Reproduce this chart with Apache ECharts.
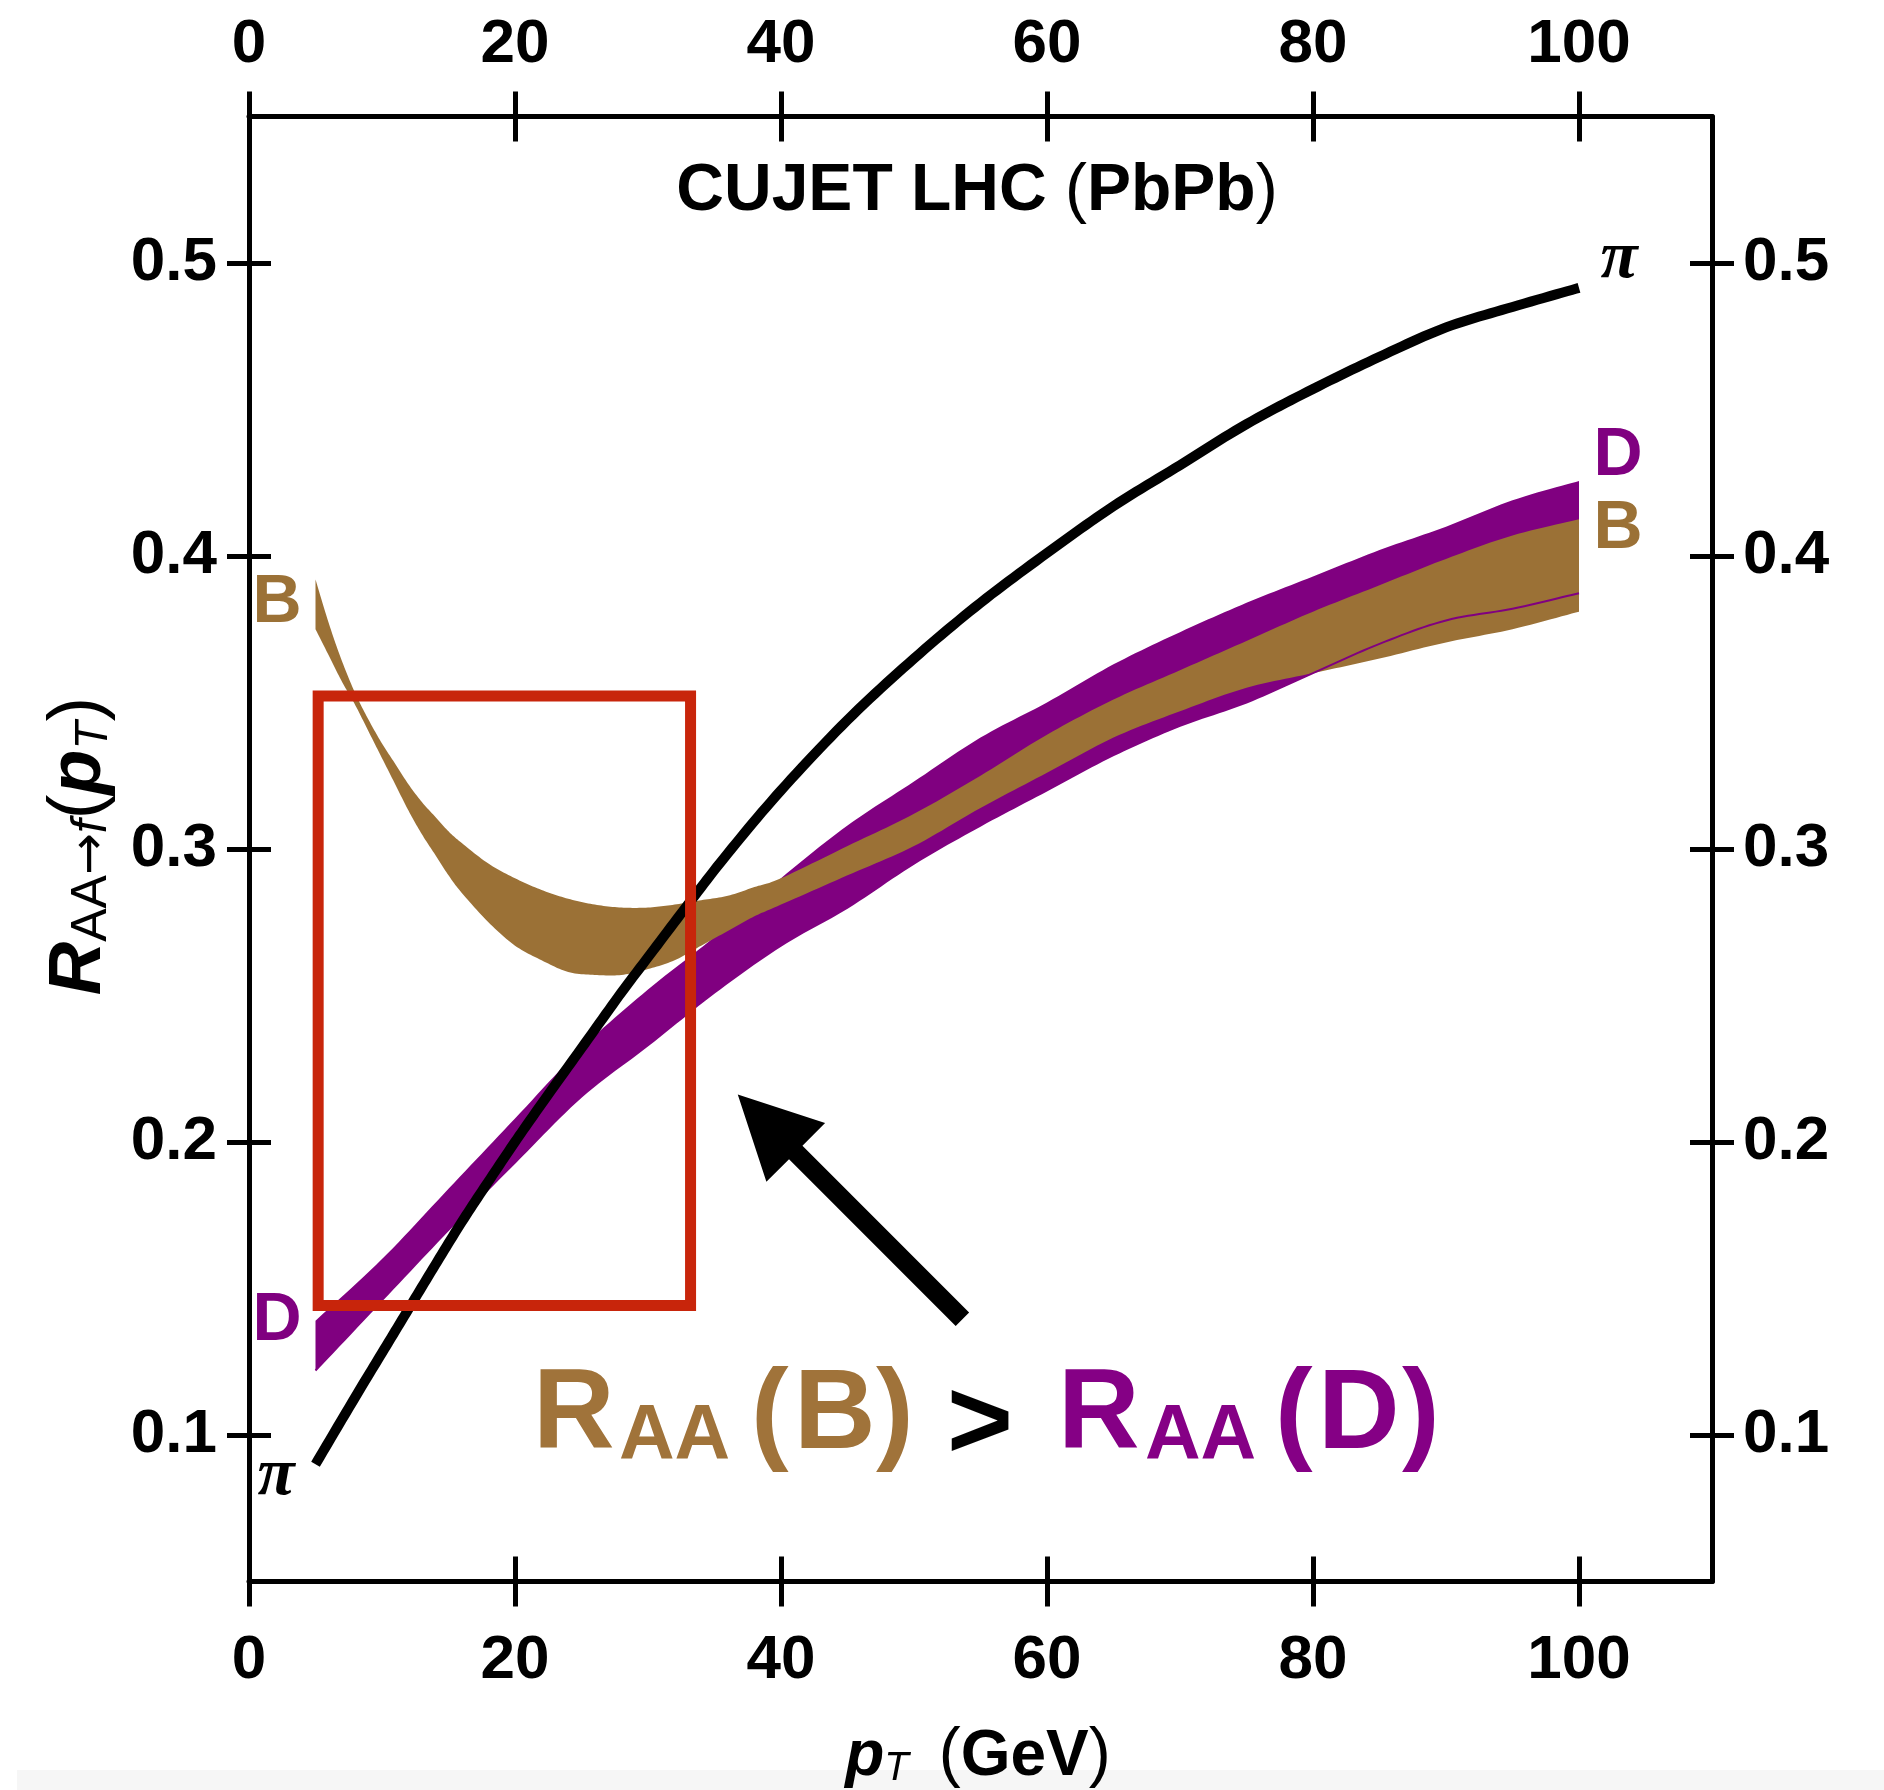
<!DOCTYPE html>
<html>
<head>
<meta charset="utf-8">
<script src="https://cdn.jsdelivr.net/npm/echarts@6/dist/echarts.min.js"></script>
<style>html,body{margin:0;padding:0;background:#fff}#c{width:1884px;height:1790px}</style>
</head>
<body>
<div id="c"></div>
<script>
// ---------------- data ----------------
const xTicks = [0, 20, 40, 60, 80, 100];
const yTicks = [0.1, 0.2, 0.3, 0.4, 0.5];

// pion (black curve)
const piX = [5, 8, 10, 12, 14, 16, 18, 20, 22, 25, 28, 30, 33, 36, 40, 45, 50, 55, 60, 65, 70, 75, 80, 85, 90, 95, 100];
const piY = [0.090, 0.113, 0.128, 0.143, 0.158, 0.1727, 0.1865, 0.200, 0.213, 0.232, 0.251, 0.263, 0.281, 0.2985, 0.320, 0.344, 0.365, 0.384, 0.401, 0.417, 0.431, 0.445, 0.457, 0.468, 0.478, 0.485, 0.4915];

// D meson band (purple)
const dX    = [5, 10, 15, 20, 25, 30, 35, 40, 45, 50, 55, 60, 65, 70, 75, 80, 85, 90, 95, 100];
const dHigh = [0.139, 0.160, 0.184, 0.208, 0.232, 0.252, 0.270, 0.290, 0.308, 0.323, 0.338, 0.350, 0.363, 0.374, 0.384, 0.393, 0.402, 0.410, 0.419, 0.4256];
const dLow  = [0.122, 0.146, 0.170, 0.193, 0.2155, 0.233, 0.251, 0.267, 0.280, 0.295, 0.308, 0.320, 0.332, 0.342, 0.350, 0.360, 0.370, 0.378, 0.382, 0.3873];

// B meson band (brown)
const bX    = [5, 6, 7, 8, 9, 10, 11, 12, 13, 14, 15, 16, 18, 20, 22, 24, 26, 28, 30, 32, 34, 36, 38, 40, 45, 50, 55, 60, 65, 70, 75, 80, 85, 90, 95, 100];
const bHigh = [0.392, 0.377, 0.364, 0.353, 0.344, 0.336, 0.329, 0.322, 0.316, 0.311, 0.306, 0.302, 0.295, 0.290, 0.286, 0.283, 0.281, 0.280, 0.280, 0.281, 0.2825, 0.284, 0.287, 0.290, 0.301, 0.312, 0.325, 0.339, 0.351, 0.361, 0.371, 0.381, 0.390, 0.399, 0.407, 0.4125];
const bLow  = [0.375, 0.366, 0.357, 0.349, 0.340, 0.331, 0.322, 0.313, 0.305, 0.298, 0.291, 0.285, 0.275, 0.267, 0.262, 0.258, 0.257, 0.257, 0.259, 0.262, 0.267, 0.272, 0.277, 0.281, 0.291, 0.301, 0.314, 0.326, 0.338, 0.347, 0.355, 0.360, 0.365, 0.3705, 0.375, 0.381];

// annotation box and arrow (data coordinates)
const boxX = [5.2, 33.2];
const boxY = [0.1442, 0.3522];
const arrowTip = [36.75, 0.2162];
const arrowTail = [53.64, 0.1395];

// ---------------- style ----------------
const FONT = '"Liberation Sans", Arial, Helvetica, sans-serif';
const SERIF = '"Liberation Serif", "Times New Roman", serif';
const PURPLE = '#800080';
const BROWN = '#9b7136';
const BROWN_TXT = '#a0733a';
const PURPLE_TXT = '#850085';
const RED = '#c8250b';

const chart = echarts.init(document.getElementById('c'), null, {renderer: 'canvas', width: 1884, height: 1790});

const gridRect = {left: 249, right: 172, top: 116.5, bottom: 208.6, containLabel: false, outerBoundsMode: 'none'};
const tickStyle = {color: '#000', width: 5};

function xAx(gridIndex, position, labels, margin) {
  return {
    type: 'value', gridIndex: gridIndex, position: position, min: 0, max: 110,
    splitLine: {show: false}, minorTick: {show: false},
    axisLine: {show: labels, onZero: false, lineStyle: {color: '#000', width: 5}},
    axisTick: {show: true, inside: !labels, length: 25, customValues: xTicks, lineStyle: tickStyle},
    axisLabel: {show: labels, customValues: xTicks, margin: margin, fontSize: 62, fontWeight: 'bold',
      fontFamily: FONT, color: '#000', formatter: function (v) { return String(v); }}
  };
}
function yAx(gridIndex, position, labels, margin) {
  return {
    type: 'value', gridIndex: gridIndex, position: position, min: 0.05, max: 0.55,
    splitLine: {show: false}, minorTick: {show: false},
    axisLine: {show: labels, onZero: false, lineStyle: {color: '#000', width: 5}},
    axisTick: {show: true, inside: !labels, length: 22, customValues: yTicks, lineStyle: tickStyle},
    axisLabel: {show: labels, customValues: yTicks, margin: margin, fontSize: 62, fontWeight: 'bold',
      fontFamily: FONT, color: '#000', formatter: function (v) { return Number(v).toFixed(1); }}
  };
}

// Catmull-Rom sampling in pixel space (rendering only)
function spline(pts, steps) {
  const out = [];
  const n = pts.length;
  for (let i = 0; i < n - 1; i++) {
    const p0 = pts[Math.max(i - 1, 0)], p1 = pts[i], p2 = pts[i + 1], p3 = pts[Math.min(i + 2, n - 1)];
    for (let s = 0; s < steps; s++) {
      const t = s / steps, t2 = t * t, t3 = t2 * t;
      const c = [0, 1].map(function (k) {
        return 0.5 * ((2 * p1[k]) + (-p0[k] + p2[k]) * t + (2 * p0[k] - 5 * p1[k] + 4 * p2[k] - p3[k]) * t2 +
          (-p0[k] + 3 * p1[k] - 3 * p2[k] + p3[k]) * t3);
      });
      out.push(c);
    }
  }
  out.push(pts[n - 1]);
  return out;
}

function bandSeries(name, xs, lo, hi, color, z) {
  return {
    type: 'custom', name: name, xAxisIndex: 0, yAxisIndex: 0, z: z, silent: true,
    data: xs.map(function (x, i) { return [x, lo[i], hi[i]]; }),
    encode: {x: 0, y: [1, 2]},
    renderItem: function (params, api) {
      if (params.dataIndex !== 0) return null;
      const top = xs.map(function (x, i) { return api.coord([x, hi[i]]); });
      const bot = xs.map(function (x, i) { return api.coord([x, lo[i]]); });
      const pts = spline(top, 12).concat(spline(bot, 12).reverse());
      return {type: 'polygon', shape: {points: pts}, style: {fill: color, stroke: null}};
    }
  };
}
function curveSeries(name, xs, ys, color, width, z) {
  return {
    type: 'custom', name: name, xAxisIndex: 0, yAxisIndex: 0, z: z, silent: true,
    data: xs.map(function (x, i) { return [x, ys[i]]; }),
    encode: {x: 0, y: 1},
    renderItem: function (params, api) {
      if (params.dataIndex !== 0) return null;
      const pts = xs.map(function (x, i) { return api.coord([x, ys[i]]); });
      return {type: 'polyline', shape: {points: spline(pts, 12)},
        style: {stroke: color, lineWidth: width, fill: null, lineJoin: 'round', lineCap: 'butt'}};
    }
  };
}

const option = {
  animation: false,
  backgroundColor: '#fff',
  grid: [Object.assign({}, gridRect), Object.assign({}, gridRect)],
  xAxis: [xAx(0, 'bottom', true, 49), xAx(0, 'top', true, 41), xAx(1, 'bottom', false, 8), xAx(1, 'top', false, 8)],
  yAxis: [yAx(0, 'left', true, 32), yAx(0, 'right', true, 31), yAx(1, 'left', false, 8), yAx(1, 'right', false, 8)],
  series: [
    bandSeries('D', dX, dLow, dHigh, PURPLE, 2),
    bandSeries('B', bX, bLow, bHigh, BROWN, 3),
    curveSeries('D lower edge', dX, dLow, PURPLE, 2, 4),
    curveSeries('pi', piX, piY, '#000', 10, 5),
    {type: 'line', name: 'box', data: [], symbol: 'none', silent: true, z: 20,
      markArea: {silent: true, z: 20,
        itemStyle: {color: 'rgba(0,0,0,0)', borderColor: RED, borderWidth: 11},
        label: {show: false},
        data: [[{coord: [boxX[0], boxY[1]]}, {coord: [boxX[1], boxY[0]]}]]}}
  ]
};
chart.setOption(option);

// ---------------- annotations ----------------
const P = chart.convertToPixel({gridIndex: 0}, arrowTip);
const Q = chart.convertToPixel({gridIndex: 0}, arrowTail);
const dx = P[0] - Q[0], dy = P[1] - Q[1];
const L = Math.sqrt(dx * dx + dy * dy);
const u = [dx / L, dy / L];
const nn = [-u[1], u[0]];
const headLen = 82, headHalf = 41.5, shaftHalf = 9.5;
const Bc = [P[0] - u[0] * headLen, P[1] - u[1] * headLen];
function off(pt, k) { return [pt[0] + nn[0] * k, pt[1] + nn[1] * k]; }
const arrowPts = [P, off(Bc, headHalf), off(Bc, shaftHalf), off(Q, shaftHalf), off(Q, -shaftHalf), off(Bc, -shaftHalf), off(Bc, -headHalf)];

function txt(x, y, text, size, color, extra) {
  return {
    type: 'text', x: x, y: y, z: 50,
    style: Object.assign({text: text, fontSize: size, fontWeight: 'bold', fontFamily: FONT, fill: color,
      align: 'center', verticalAlign: 'middle'}, extra || {})
  };
}

const graphics = [
  {type: 'rect', shape: {x: 17, y: 1770, width: 1867, height: 20}, style: {fill: '#f6f6f6'}, z: 0, silent: true},
  {type: 'polygon', shape: {points: arrowPts}, style: {fill: '#000'}, z: 30, silent: true},
  // title
  {type: 'text', x: 977, y: 192, z: 50, style: {
    text: '{b|CUJET LHC }{p|(}{b|PbPb}{p|)}', align: 'center', verticalAlign: 'middle',
    rich: {b: {fontSize: 66, fontWeight: 'bold', fontFamily: FONT, fill: '#000'},
           p: {fontSize: 66, fontWeight: 'normal', fontFamily: FONT, fill: '#000'}}}},
  // y title
  {type: 'text', x: 80, y: 846, rotation: Math.PI / 2, z: 50, style: {
    text: '{R|R}{s|AA}{ar|→}{si|f}{pa|(}{pp|p}{st|T}{pa|)}', align: 'center', verticalAlign: 'middle',
    rich: {
      R: {fontSize: 74, fontStyle: 'italic', fontWeight: 'bold', fontFamily: FONT, fill: '#000', lineHeight: 74, verticalAlign: 'bottom'},
      s: {fontSize: 50, fontWeight: 'normal', fontFamily: FONT, fill: '#000', lineHeight: 40, verticalAlign: 'bottom'},
      ar: {fontSize: 50, fontWeight: 'normal', fontFamily: '"DejaVu Sans", sans-serif', fill: '#000', lineHeight: 40, verticalAlign: 'bottom'},
      si: {fontSize: 50, fontStyle: 'italic', fontWeight: 'normal', fontFamily: FONT, fill: '#000', lineHeight: 40, verticalAlign: 'bottom'},
      pa: {fontSize: 74, fontWeight: 'normal', fontFamily: FONT, fill: '#000', lineHeight: 74, verticalAlign: 'bottom'},
      pp: {fontSize: 74, fontStyle: 'italic', fontWeight: 'bold', fontFamily: FONT, fill: '#000', lineHeight: 74, verticalAlign: 'bottom'},
      st: {fontSize: 46, fontStyle: 'italic', fontWeight: 'normal', fontFamily: FONT, fill: '#000', lineHeight: 38, verticalAlign: 'bottom'}
    }}},
  // x title
  {type: 'text', x: 978, y: 1757, z: 50, style: {
    text: '{pp|p}{st|T}{pl|(}{g|GeV}{pa|)}', align: 'center', verticalAlign: 'middle',
    rich: {
      pp: {fontSize: 64, fontStyle: 'italic', fontWeight: 'bold', fontFamily: FONT, fill: '#000', lineHeight: 64, verticalAlign: 'bottom'},
      st: {fontSize: 40, fontStyle: 'italic', fontWeight: 'normal', fontFamily: FONT, fill: '#000', lineHeight: 30, verticalAlign: 'bottom'},
      pl: {fontSize: 66, fontWeight: 'normal', fontFamily: FONT, fill: '#000', lineHeight: 64, verticalAlign: 'bottom', padding: [0, 0, 0, 30]},
      pa: {fontSize: 66, fontWeight: 'normal', fontFamily: FONT, fill: '#000', lineHeight: 64, verticalAlign: 'bottom'},
      g: {fontSize: 64, fontWeight: 'bold', fontFamily: FONT, fill: '#000', lineHeight: 64, verticalAlign: 'bottom'}
    }}},
  // curve labels
  txt(1619, 259, 'π', 68, '#000', {fontFamily: SERIF, fontStyle: 'italic'}),
  txt(276, 1476, 'π', 68, '#000', {fontFamily: SERIF, fontStyle: 'italic'}),
  txt(1618, 456, 'D', 68, PURPLE),
  txt(1618, 529, 'B', 68, BROWN),
  txt(277, 603, 'B', 68, BROWN),
  txt(277, 1321, 'D', 68, PURPLE),
  // big statement
  txt(533, 1417, 'R', 113, BROWN_TXT, {align: 'left'}),
  txt(619, 1438, 'AA', 77, BROWN_TXT, {align: 'left'}),
  txt(751, 1417, '(', 113, BROWN_TXT, {align: 'left'}),
  txt(794, 1417, 'B', 113, BROWN_TXT, {align: 'left'}),
  txt(876, 1417, ')', 113, BROWN_TXT, {align: 'left'}),
  txt(947, 1427, '>', 113, '#000', {align: 'left'}),
  txt(1058, 1417, 'R', 113, PURPLE_TXT, {align: 'left'}),
  txt(1145, 1438, 'AA', 77, PURPLE_TXT, {align: 'left'}),
  txt(1275, 1417, '(', 113, PURPLE_TXT, {align: 'left'}),
  txt(1318, 1417, 'D', 113, PURPLE_TXT, {align: 'left'}),
  txt(1402, 1417, ')', 113, PURPLE_TXT, {align: 'left'})
];
chart.setOption({graphic: graphics});
</script>
</body>
</html>
